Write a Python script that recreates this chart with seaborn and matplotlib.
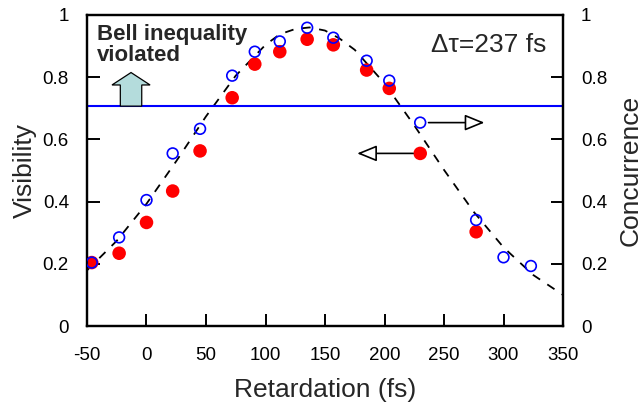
import matplotlib
matplotlib.use("Agg")
import matplotlib.pyplot as plt
import matplotlib.patches as mpatches
import seaborn as sns
import pandas as pd

# ======================
# DATA
# ======================
vis_x = [-46, -23, 0, 22, 45, 72, 91, 112, 135, 157, 185, 204, 230, 277]
vis_y = [0.204, 0.234, 0.333, 0.434, 0.563, 0.734, 0.842, 0.882, 0.922, 0.904, 0.823, 0.764, 0.555, 0.303]

conc_x = [-46, -23, 0, 22, 45, 72, 91, 112, 135, 157, 185, 204, 230, 277, 300, 323]
conc_y = [0.204, 0.285, 0.405, 0.555, 0.634, 0.805, 0.882, 0.915, 0.959, 0.927, 0.853, 0.789, 0.654, 0.341, 0.221, 0.193]

fit_x = [-50, -25, 0, 25, 50, 75, 100, 112, 125, 137, 150, 162, 175, 200, 225, 250, 275, 300, 325, 350]
fit_y = [0.179, 0.274, 0.393, 0.530, 0.674, 0.805, 0.904, 0.938, 0.955, 0.960, 0.950, 0.925, 0.888, 0.780, 0.645, 0.502, 0.367, 0.253, 0.164, 0.100]

bell_limit = 0.707
x_ticks = [-50, 0, 50, 100, 150, 200, 250, 300, 350]
y_ticks = [0, 0.2, 0.4, 0.6, 0.8, 1]
y_ticklabels = ["0", "0.2", "0.4", "0.6", "0.8", "1"]

vis_df = pd.DataFrame({"x": vis_x, "y": vis_y})
conc_df = pd.DataFrame({"x": conc_x, "y": conc_y})
fit_df = pd.DataFrame({"x": fit_x, "y": fit_y})

# ======================
# STYLE
# ======================
sns.set_style("ticks")
plt.rcParams["font.family"] = ["Liberation Sans", "DejaVu Sans"]
plt.rcParams["axes.unicode_minus"] = False

fig = plt.figure(figsize=(6.43, 4.03), dpi=100)
ax = fig.add_axes([0.1353, 0.191, 0.7403, 0.7718])
ax2 = ax.twinx()

# ======================
# PLOT
# ======================
sns.lineplot(data=fit_df, x="x", y="y", ax=ax, color="black", lw=1.3,
             linestyle=(0, (4.8, 4.8)), sort=False)
ax.axhline(bell_limit, color="#0000ff", lw=1.5)
sns.scatterplot(data=vis_df, x="x", y="y", ax=ax, color="#ff0000",
                s=95, edgecolor="none", zorder=3)
sns.scatterplot(data=conc_df, x="x", y="y", ax=ax2, facecolor="none",
                edgecolor="#0000ff", s=60, linewidth=1.2, zorder=4)

for a in (ax, ax2):
    a.set_xlim(-50, 350)
    a.set_ylim(0, 1)
    a.set_yticks(y_ticks)
    a.set_yticklabels(y_ticklabels)
    for s in a.spines.values():
        s.set_linewidth(1.6)
        s.set_color("black")
        s.set_visible(True)

ax.set_xticks(x_ticks)
ax.tick_params(axis="x", direction="in", length=9, width=1.4, color="black",
               labelcolor="black", labelsize=13.5, pad=15, bottom=True, top=False)
ax.tick_params(axis="y", direction="in", length=9, width=1.4, color="black",
               labelcolor="black", labelsize=13.5, pad=13, left=True, right=False)
ax2.tick_params(axis="y", direction="in", length=9, width=1.4, color="black",
                labelcolor="black", labelsize=13.5, pad=13, right=True, left=False)

ax.set_xlabel("Retardation (fs)", fontsize=19, labelpad=10)
ax.set_ylabel("Visibility", fontsize=19, labelpad=4)
ax2.set_ylabel("Concurrence", fontsize=19, labelpad=8)
ax2.set_xlabel("")

# block arrow above the Bell limit
arrow = mpatches.FancyArrow(-13, bell_limit, 0, 0.108, width=18, head_width=32,
                            head_length=0.04, length_includes_head=True,
                            facecolor="#b4dcdc", edgecolor="black", lw=0.9, zorder=5)
ax.add_patch(arrow)

ax.text(-42, 0.97, "Bell inequality\nviolated", fontsize=16, fontweight="bold",
        va="top", ha="left", linespacing=0.95)
ax.text(336, 0.881, "\u0394\u03c4=237 fs", fontsize=19, ha="right", va="baseline")

# which-axis arrows
ax.annotate("", xy=(284, 0.654), xytext=(237, 0.654),
            arrowprops=dict(arrowstyle="-|>,head_length=1.1,head_width=0.45",
                            mutation_scale=11, fc="white", ec="black", lw=1.2,
                            shrinkA=0, shrinkB=0))
ax.annotate("", xy=(177, 0.555), xytext=(224, 0.555),
            arrowprops=dict(arrowstyle="-|>,head_length=1.1,head_width=0.45",
                            mutation_scale=11, fc="white", ec="black", lw=1.2,
                            shrinkA=0, shrinkB=0))

fig.savefig("out.png", dpi=100)
